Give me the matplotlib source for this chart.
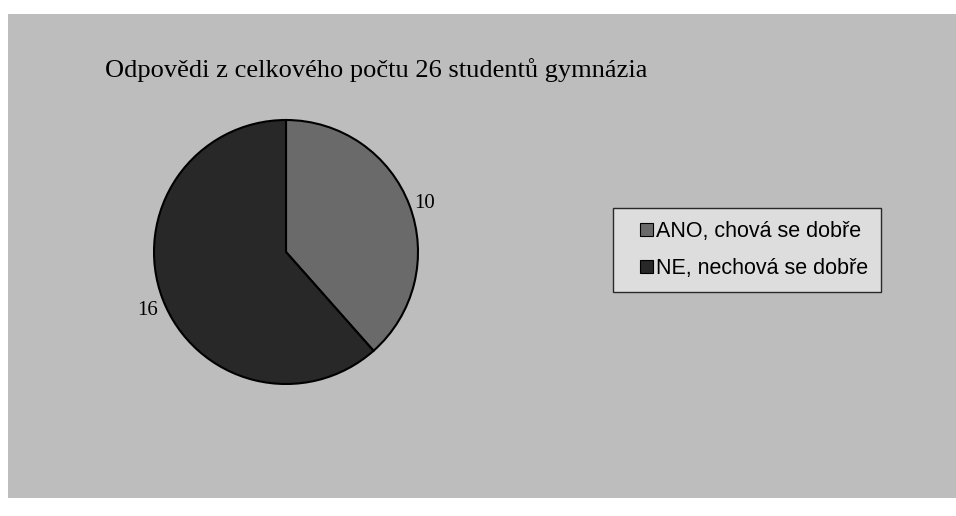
import matplotlib.pyplot as plt
from matplotlib.patches import Rectangle
from matplotlib.legend_handler import HandlerPatch

labels = ["ANO, chová se dobře", "NE, nechová se dobře"]
values = [10, 16]
colors = ["#6a6a6a", "#282828"]
title = "Odpovědi z celkového počtu 26 studentů gymnázia"

W, H = 956, 516
fig = plt.figure(figsize=(W / 100, H / 100), dpi=100)
fig.patch.set_facecolor("white")

# grey scanned chart area
fig.patches.append(Rectangle((8 / W, 1 - 498 / H), 1, (498 - 14) / H,
                             transform=fig.transFigure, facecolor="#bdbdbd",
                             edgecolor="none", zorder=-5))

fig.text(105 / W, 1 - 70 / H, title, fontsize=19, family="Liberation Serif",
         va="center", ha="left")

# pie axes, centre (286, 252) px, radius ~132 px
r = 132
ax = fig.add_axes([(286 - r) / W, 1 - (252 + r) / H, 2 * r / W, 2 * r / H])
ax.set_facecolor("none")
wedges, texts = ax.pie(values, colors=colors, startangle=90, counterclock=False,
                       labels=[str(v) for v in values], labeldistance=1.04,
                       wedgeprops=dict(edgecolor="black", linewidth=1.5),
                       textprops=dict(family="Liberation Serif", fontsize=15))
ax.set_xlim(-1, 1)
ax.set_ylim(-1, 1)
ax.set_aspect("auto")
for w in wedges:
    w.set_clip_on(False)
for t in texts:
    t.set_clip_on(False)
texts[1].set_va("top")


def square(legend, orig_handle, xdescent, ydescent, width, height, fontsize):
    # small square pushed to the right end of the handle box
    return Rectangle((width - height - xdescent, -ydescent), height, height)


leg = fig.legend(wedges, labels, loc="center left",
                 bbox_to_anchor=(613 / W, 1 - 250 / H), borderaxespad=0,
                 prop=dict(family="Liberation Sans", size=15.5),
                 frameon=True, fancybox=False, handlelength=1.25,
                 handleheight=0.55, handletextpad=0.15, borderpad=0.6,
                 labelspacing=0.75,
                 handler_map={w: HandlerPatch(patch_func=square) for w in wedges})
leg.get_frame().set_facecolor("#e6e6e6")
leg.get_frame().set_edgecolor("black")
leg.get_frame().set_linewidth(1.0)
for h in leg.legend_handles:
    h.set_linewidth(0.8)

fig.savefig("out.png", dpi=100)
